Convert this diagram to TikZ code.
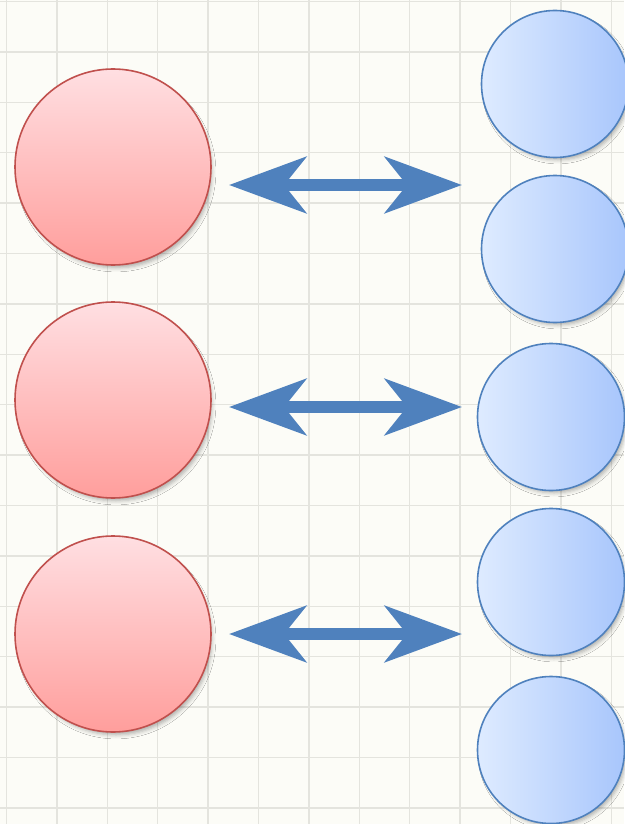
\documentclass[tikz,border=0pt]{standalone}
\usetikzlibrary{arrows.meta,shadows.blur}
\definecolor{paper}{HTML}{FCFCF7}
\definecolor{gridline}{HTML}{E4E4DE}
\definecolor{redtop}{HTML}{FFDFE2}
\definecolor{redbot}{HTML}{FF9E9C}
\definecolor{redline}{HTML}{C0504D}
\definecolor{blueleft}{HTML}{DEEBFF}
\definecolor{blueright}{HTML}{A8C6FC}
\definecolor{blueline}{HTML}{4F81BD}
\begin{document}
\begin{tikzpicture}[x=1pt,y=-1pt,
    redball/.style={circle,draw=redline,line width=1.6pt,inner sep=0pt,
      minimum size=196pt,top color=redtop,bottom color=redbot,
      blur shadow={shadow xshift=3pt,shadow yshift=-5pt,shadow scale=0.98,
        shadow blur radius=4pt,shadow opacity=30}},
    blueball/.style={circle,draw=blueline,line width=1.6pt,inner sep=0pt,
      minimum size=147pt,left color=blueleft,right color=blueright,
      blur shadow={shadow xshift=3pt,shadow yshift=-4pt,shadow scale=0.98,
        shadow blur radius=4pt,shadow opacity=30}},
    twoway/.style={blueline,line width=12pt,
      {Stealth[length=77pt,width=56pt,inset=22pt]}-{Stealth[length=77pt,width=56pt,inset=22pt]}}]
    % Paper
    \useasboundingbox[fill=paper] (0,0) rectangle (624,824);
    \foreach \i in {0,...,12}
      \draw[gridline,line width=1.4pt] (6.5+50.4*\i,0) -- ++(0,824);
    \foreach \j in {0,...,16}
      \draw[gridline,line width=1.4pt] (0,1.5+50.4*\j) -- ++(624,0);

    % Balls
    \node[redball] (r1) at (113,167) {};
    \node[redball] (r2) at (113,400) {};
    \node[redball] (r3) at (113,634) {};

    \node[blueball] (b1) at (555,84) {};
    \node[blueball] (b2) at (555,249) {};
    \node[blueball] (b3) at (551,417) {};
    \node[blueball] (b4) at (551,582) {};
    \node[blueball] (b5) at (551,750) {};

    % Arrows
    \coordinate (a1l) at (229,185); \coordinate (a1r) at (462,185);
    \coordinate (a2l) at (229,407); \coordinate (a2r) at (462,407);
    \coordinate (a3l) at (229,634); \coordinate (a3r) at (462,634);
    \draw[twoway] (a1l) -- (a1r);
    \draw[twoway] (a2l) -- (a2r);
    \draw[twoway] (a3l) -- (a3r);
  \end{tikzpicture}
\end{document}
